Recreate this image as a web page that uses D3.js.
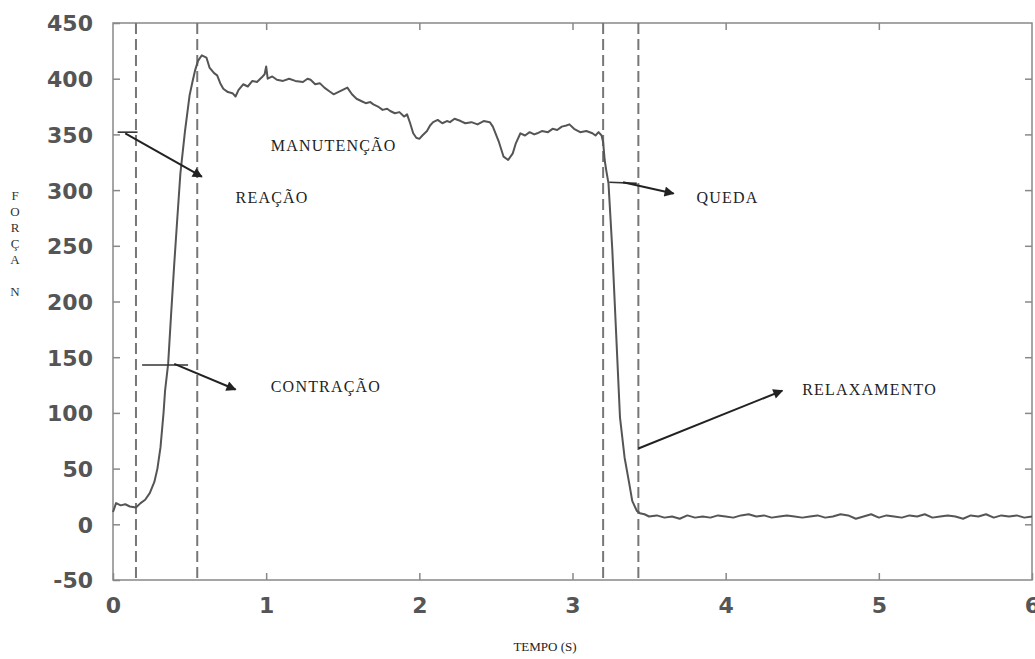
<!DOCTYPE html>
<html>
<head>
<meta charset="utf-8">
<script src="https://cdn.jsdelivr.net/npm/d3@7"></script>
<style>
  body { margin: 0; background: #fff; }
  svg { display: block; }
</style>
</head>
<body>
<div id="chart"></div>
<script>
// time (s) and force (N)
var tempo = [0.00,0.02,0.05,0.08,0.11,0.15,0.18,0.21,0.24,0.27,0.29,0.31,0.33,0.34,0.36,0.38,0.40,0.42,0.44,0.47,0.50,0.52,0.535,0.555,0.58,0.61,0.63,0.66,0.68,0.70,0.72,0.75,0.78,0.80,0.82,0.85,0.88,0.91,0.94,0.97,0.99,1.00,1.01,1.04,1.07,1.11,1.15,1.19,1.24,1.27,1.29,1.32,1.35,1.38,1.41,1.44,1.47,1.50,1.53,1.56,1.59,1.62,1.65,1.68,1.70,1.73,1.76,1.79,1.81,1.84,1.87,1.90,1.92,1.94,1.96,1.98,2.00,2.02,2.05,2.07,2.09,2.12,2.15,2.18,2.20,2.23,2.27,2.30,2.34,2.38,2.42,2.46,2.48,2.50,2.52,2.55,2.58,2.61,2.63,2.66,2.69,2.72,2.75,2.77,2.80,2.84,2.87,2.90,2.93,2.96,2.98,3.01,3.05,3.09,3.13,3.15,3.17,3.19,3.20,3.21,3.22,3.235,3.26,3.28,3.31,3.34,3.37,3.39,3.42,3.44,3.47,
  3.50,3.55,3.60,3.65,3.70,3.75,3.80,3.85,3.90,3.95,4.00,4.05,4.10,4.15,4.20,4.25,4.30,4.35,4.40,4.45,4.50,4.55,4.60,4.65,4.70,4.75,4.80,4.85,4.90,4.95,5.00,5.05,5.10,5.15,5.20,5.25,5.30,5.35,5.40,5.45,5.50,5.55,5.60,5.65,5.70,5.75,5.80,5.85,5.90,5.95,6.00];
var forca = [11,19,17,18,16,15,19,22,28,38,50,69,100,120,144,190,234,275,315,353,385,398,407,416,421,419,410,405,403,396,391,388,387,384,390,395,393,398,397,401,404,411,400,402,399,398,400,398,397,400,399,395,396,392,389,386,388,390,392,386,382,380,378,379,377,375,372,373,371,369,370,366,368,360,351,347,346,349,353,358,361,363,360,362,361,364,362,360,361,359,362,361,357,350,343,330,327,333,342,351,349,352,350,351,353,352,355,354,357,358,359,355,352,353,351,349,352,349,343,327,318,306,246,186,96,60,37,21,12,10,9,
  7,8,6,7,5,8,6,7,6,8,7,6,8,9,7,8,6,7,8,7,6,7,8,6,7,9,8,5,7,9,6,8,7,6,8,7,9,6,7,8,7,5,8,7,9,6,8,7,8,6,7];

var xTicks = [0,1,2,3,4,5,6];
var yTicks = [-50,0,50,100,150,200,250,300,350,400,450];
var fases = [0.15, 0.55, 3.20, 3.43];   // dashed phase limits

// annotations: label, label anchor, arrow path (t, N)
var notas = [
  { txt: "REAÇÃO",      at: [0.80, 288], bar: [[0.03,352],[0.16,352]], arrow: [[0.08,351],[0.58,312]] },
  { txt: "MANUTENÇÃO",  at: [1.03, 335], bar: null, arrow: null },
  { txt: "CONTRAÇÃO",   at: [1.03, 119], bar: [[0.19,143],[0.49,143]], arrow: [[0.40,144],[0.80,121]] },
  { txt: "QUEDA",       at: [3.81, 288], bar: [[3.24,307],[3.42,306]], arrow: [[3.33,307],[3.66,297]] },
  { txt: "RELAXAMENTO", at: [4.50, 116], bar: null, arrow: [[3.43,68],[4.37,120]] }
];

var W = 1035, H = 659;
var margin = { left: 113, right: 3, top: 23, bottom: 79 };
var width = W - margin.left - margin.right,
    height = H - margin.top - margin.bottom;

var x = d3.scaleLinear().domain([0, 6]).range([0, width]);
var y = d3.scaleLinear().domain([-50, 450]).range([height, 0]);

var svg = d3.select("#chart").append("svg")
    .attr("width", W).attr("height", H);

var defs = svg.append("defs");
defs.append("marker")
    .attr("id", "head")
    .attr("viewBox", "0 0 10 10")
    .attr("refX", 9).attr("refY", 5)
    .attr("markerWidth", 6).attr("markerHeight", 5)
    .attr("markerUnits", "strokeWidth")
    .attr("orient", "auto")
  .append("path")
    .attr("d", "M0,0 L10,5 L0,10 z")
    .attr("fill", "#222");

var g = svg.append("g")
    .attr("transform", "translate(" + margin.left + "," + margin.top + ")");

// frame
g.append("rect")
    .attr("width", width).attr("height", height)
    .attr("fill", "none").attr("stroke", "#888").attr("stroke-width", 1.5);

// axes with inward ticks
var tickFont = "'DejaVu Sans', sans-serif";
var fmt = function(d){ return String(d); };
var xAxis = g.append("g").attr("transform", "translate(0," + height + ")")
    .call(d3.axisBottom(x).tickValues(xTicks).tickSize(-7).tickPadding(13).tickFormat(fmt));
var yAxis = g.append("g")
    .call(d3.axisLeft(y).tickValues(yTicks).tickSize(-7).tickPadding(20).tickFormat(fmt));
g.append("g").attr("transform", "translate(0,0)")
    .call(d3.axisTop(x).tickValues(xTicks.slice(1, -1)).tickSize(-7).tickFormat(""));
g.append("g").attr("transform", "translate(" + width + ",0)")
    .call(d3.axisRight(y).tickValues(yTicks.slice(1, -1)).tickSize(-7).tickFormat(""));

g.selectAll(".domain").remove();
g.selectAll(".tick line").attr("stroke", "#888").attr("stroke-width", 1.5);
g.selectAll(".tick text")
    .attr("font-family", tickFont)
    .attr("font-weight", "bold")
    .attr("font-size", "22px")
    .attr("fill", "#555");
xAxis.selectAll(".tick text").attr("dy", "0.9em");
yAxis.selectAll(".tick text").attr("dy", "0.36em");

// phase lines
g.selectAll(".fase").data(fases).enter().append("line")
    .attr("class", "fase")
    .attr("x1", function(d){ return x(d); })
    .attr("x2", function(d){ return x(d); })
    .attr("y1", 0).attr("y2", height)
    .attr("stroke", "#777").attr("stroke-width", 2)
    .attr("stroke-dasharray", "11,5");

// force trace
var pts = tempo.map(function(t, i){ return [t, forca[i]]; });
var line = d3.line()
    .x(function(d){ return x(d[0]); })
    .y(function(d){ return y(d[1]); });

g.append("path")
    .datum(pts)
    .attr("d", line)
    .attr("fill", "none")
    .attr("stroke", "#555")
    .attr("stroke-width", 2)
    .attr("stroke-linejoin", "round");

// annotations
var serif = "'Liberation Serif', 'Times New Roman', serif";
notas.forEach(function(n){
    if (n.bar) {
        g.append("path").datum(n.bar).attr("d", line)
            .attr("fill", "none").attr("stroke", "#333").attr("stroke-width", 1.6);
    }
    if (n.arrow) {
        g.append("path").datum(n.arrow).attr("d", line)
            .attr("fill", "none").attr("stroke", "#222").attr("stroke-width", 2)
            .attr("marker-end", "url(#head)");
    }
    g.append("text")
        .attr("x", x(n.at[0])).attr("y", y(n.at[1]))
        .attr("font-family", serif)
        .attr("font-size", "16px")
        .attr("letter-spacing", "1.2px")
        .attr("fill", "#222")
        .text(n.txt);
});

// axis titles
svg.append("text")
    .attr("x", 545).attr("y", 651)
    .attr("text-anchor", "middle")
    .attr("font-family", serif).attr("font-size", "13px").attr("fill", "#222")
    .text("TEMPO (S)");

var yLetters = ["F","O","R","Ç","A"," ","N"];
svg.append("g").selectAll("text").data(yLetters).enter().append("text")
    .attr("x", 15)
    .attr("y", function(d, i){ return 200 + i * 16; })
    .attr("text-anchor", "middle")
    .attr("font-family", serif).attr("font-size", "13px").attr("fill", "#333")
    .text(function(d){ return d; });
</script>
</body>
</html>
